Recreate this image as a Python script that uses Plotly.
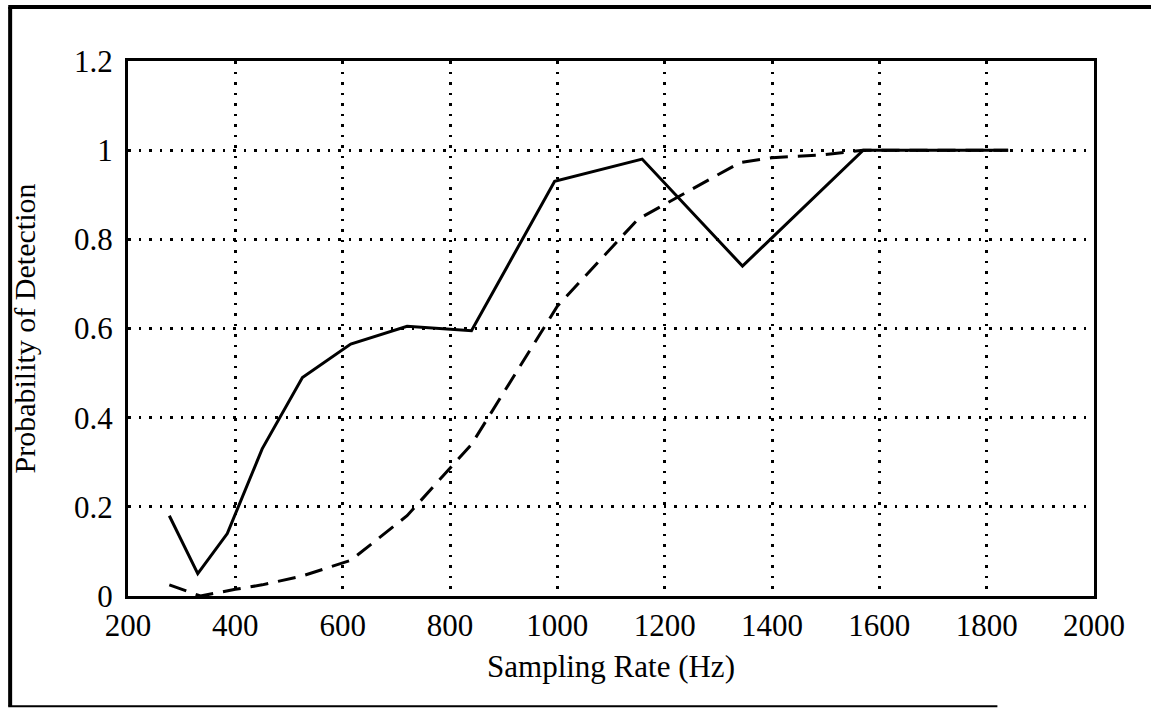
import plotly.graph_objects as go

rate_hz = [277, 330, 385, 450, 525, 615, 720, 840, 995, 1158, 1345, 1570, 1840]
pd_solid = [0.18, 0.05, 0.14, 0.33, 0.49, 0.565, 0.605, 0.595, 0.93, 0.98, 0.74, 1.0, 1.0]

rate_dash = [277, 335, 400, 450, 525, 615, 720, 840, 1000, 1150, 1340, 1400, 1490, 1570, 1840]
pd_dash = [0.025, 0.0, 0.015, 0.025, 0.045, 0.08, 0.18, 0.34, 0.65, 0.845, 0.972, 0.983, 0.989, 1.0, 1.0]

x_ticks = [200, 400, 600, 800, 1000, 1200, 1400, 1600, 1800, 2000]
y_ticks = [0, 0.2, 0.4, 0.6, 0.8, 1.0, 1.2]
y_tick_text = ["0", "0.2", "0.4", "0.6", "0.8", "1", "1.2"]

FONT = "Liberation Serif"

fig = go.Figure()
fig.add_trace(go.Scatter(x=rate_dash, y=pd_dash, mode="lines",
                         line=dict(color="black", width=3, dash="18px,10px"),
                         showlegend=False))
fig.add_trace(go.Scatter(x=rate_hz, y=pd_solid, mode="lines",
                         line=dict(color="black", width=3),
                         showlegend=False))

fig.update_xaxes(range=[200, 2000], tickvals=x_ticks, ticktext=[str(v) for v in x_ticks],
                 showline=True, mirror=True, linecolor="black", linewidth=3,
                 showgrid=True, gridcolor="black", gridwidth=2.5, griddash="2.5px,8px",
                 zeroline=False, ticks="",
                 tickfont=dict(family=FONT, size=31, color="black"),
                 title=dict(text="Sampling Rate (Hz)", font=dict(family=FONT, size=31, color="black"),
                            standoff=14))
fig.update_yaxes(range=[0, 1.2], tickvals=y_ticks, ticktext=y_tick_text,
                 showline=True, mirror=True, linecolor="black", linewidth=3,
                 showgrid=True, gridcolor="black", gridwidth=2.5, griddash="2.5px,8px",
                 zeroline=False, ticks="", ticklabelstandoff=6,
                 tickfont=dict(family=FONT, size=31, color="black"),
                 title=dict(text="Probability of Detection", font=dict(family=FONT, size=30, color="black"),
                            standoff=30))

# frame around the figure (left, top, bottom)
fig.add_shape(type="line", xref="paper", yref="paper", x0=-0.122, x1=-0.122, y0=-0.206, y1=1.101,
              line=dict(color="black", width=4))
fig.add_shape(type="line", xref="paper", yref="paper", x0=-0.124, x1=1.06, y0=1.101, y1=1.101,
              line=dict(color="black", width=4))
fig.add_shape(type="line", xref="paper", yref="paper", x0=-0.124, x1=0.9, y0=-0.206, y1=-0.206,
              line=dict(color="black", width=2))

fig.update_layout(width=1151, height=713,
                  margin=dict(l=128, r=57, t=61, b=117),
                  plot_bgcolor="white", paper_bgcolor="white")

fig.write_html("out.html")
